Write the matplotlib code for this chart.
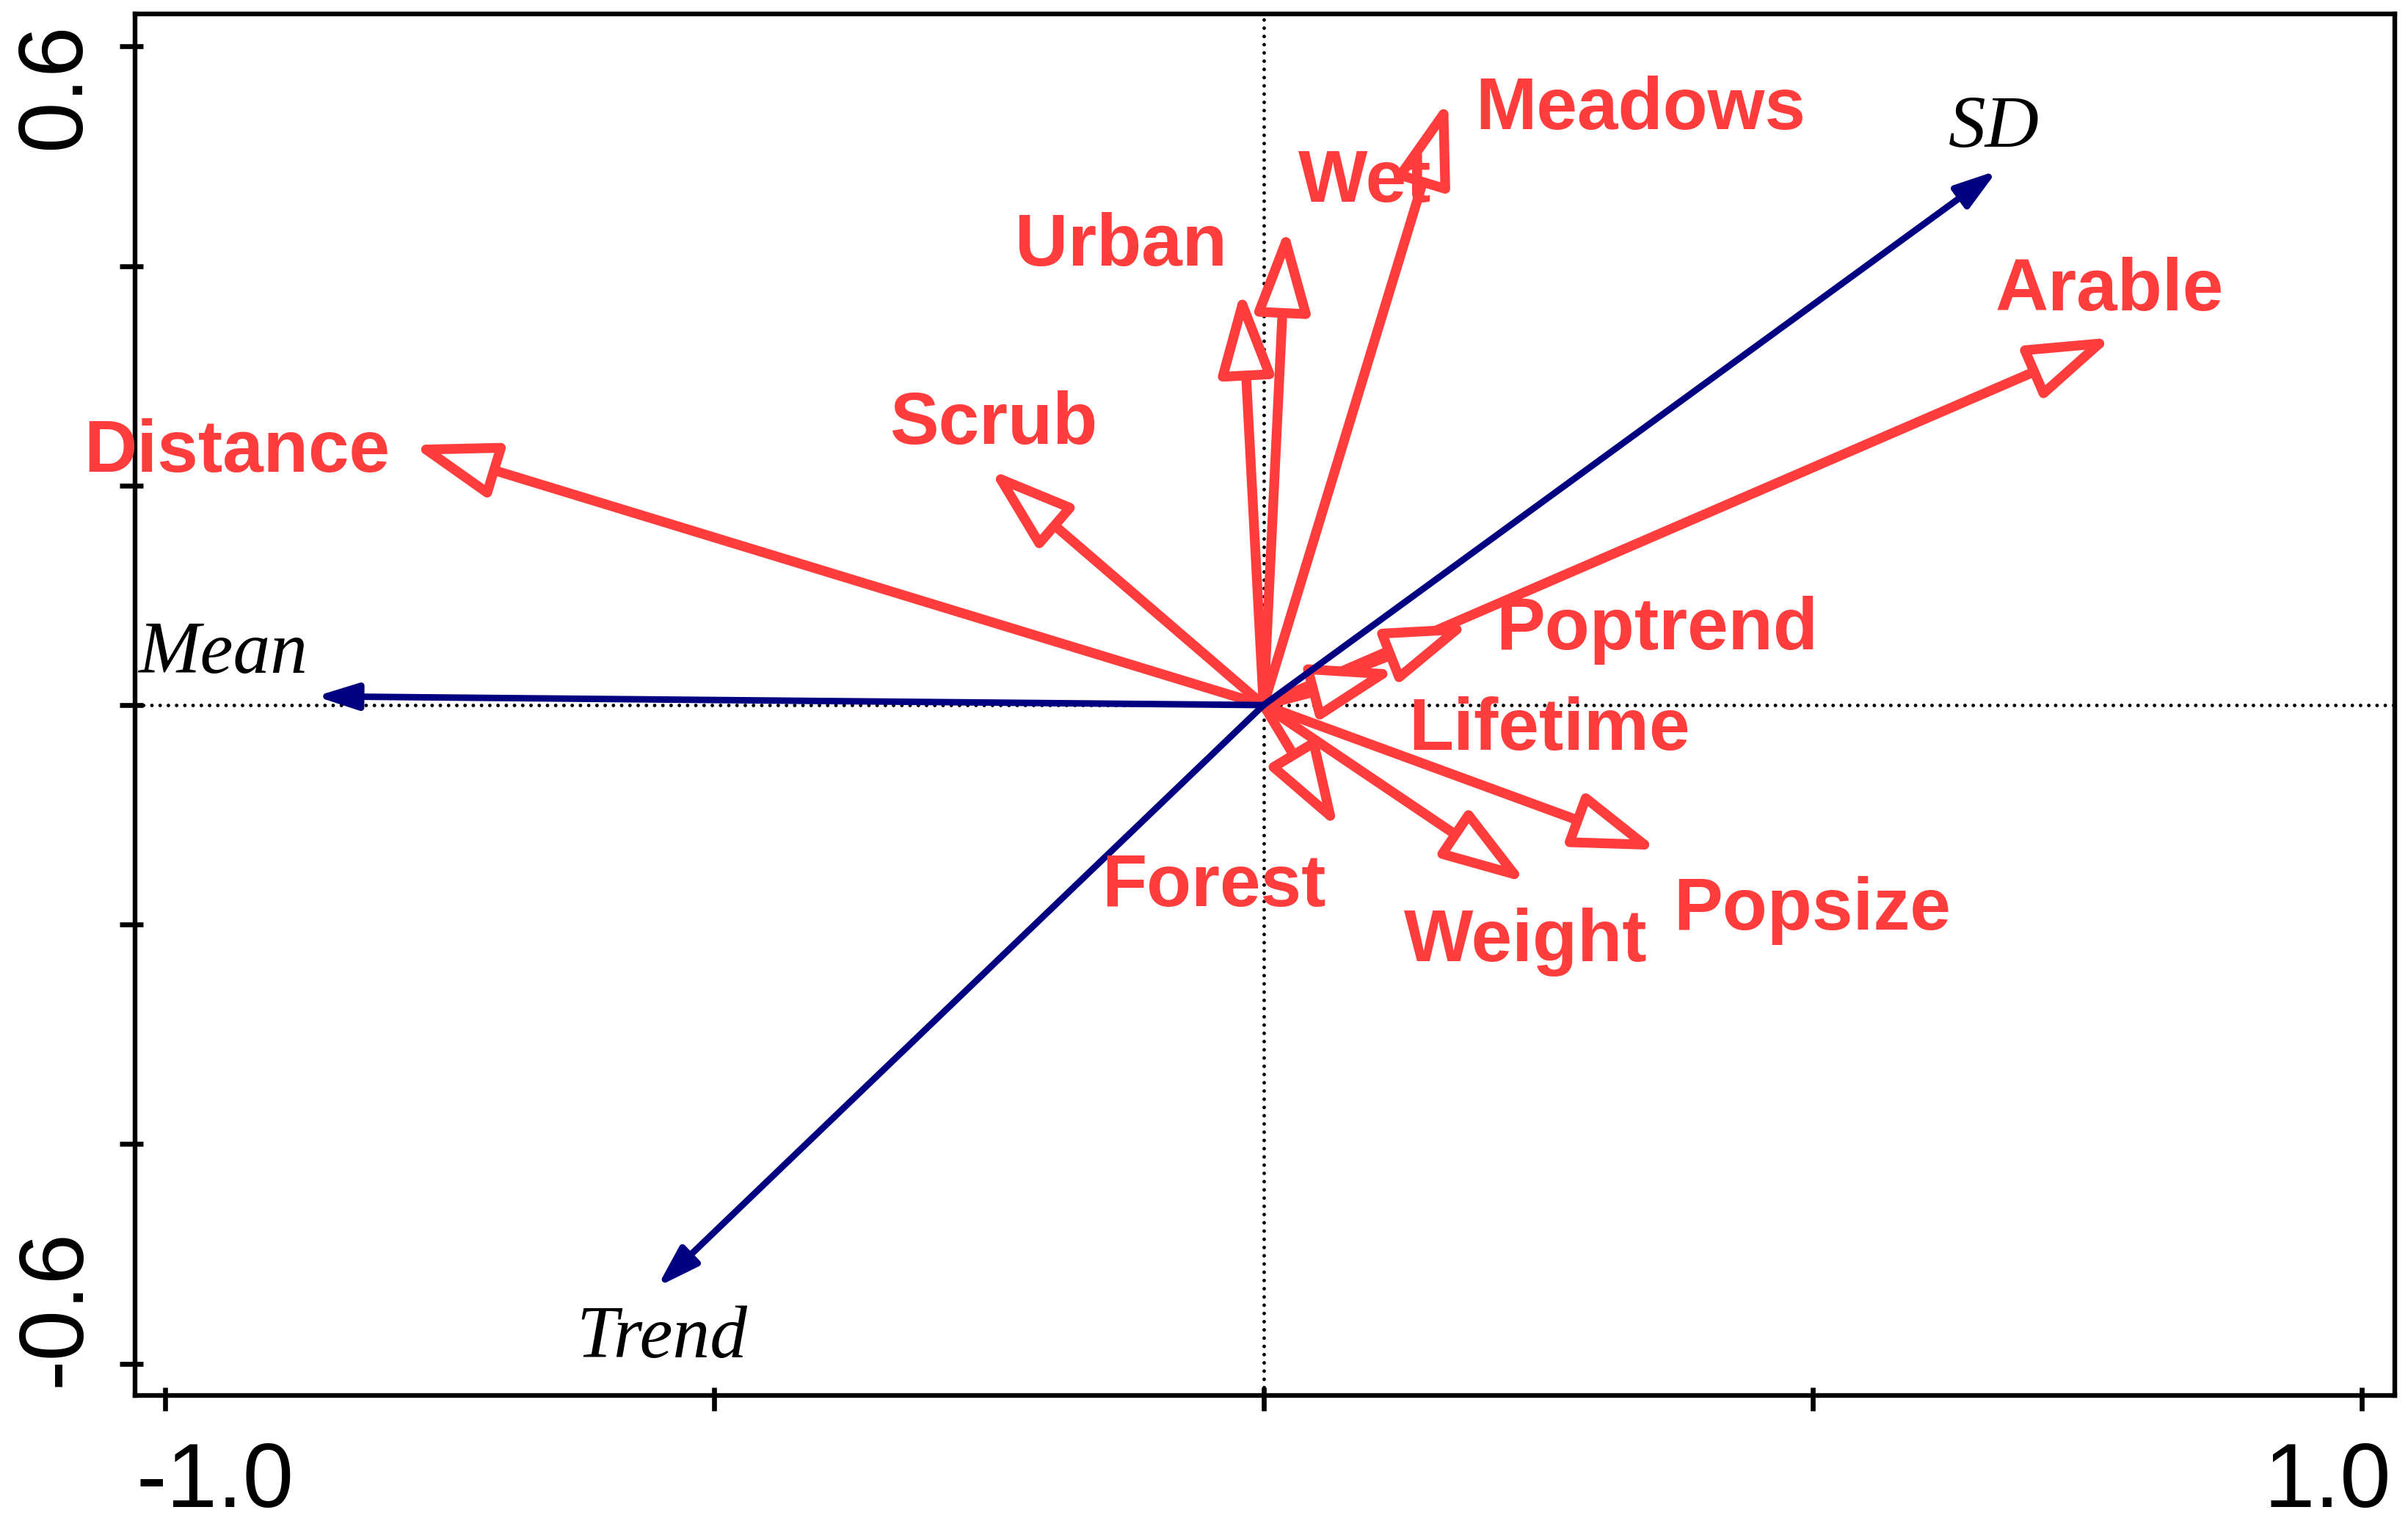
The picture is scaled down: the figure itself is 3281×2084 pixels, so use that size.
import matplotlib
matplotlib.use('Agg')
import matplotlib.pyplot as plt
from matplotlib.patches import FancyArrowPatch
from matplotlib.transforms import ScaledTranslation
from matplotlib.ticker import FixedLocator

# ---------------- data ----------------
env_names = ['Distance', 'Scrub', 'Urban', 'Wet', 'Meadows', 'Arable',
             'Poptrend', 'Lifetime', 'Forest', 'Weight', 'Popsize']
env_x = [-0.776, -0.250, -0.020, 0.021, 0.168, 0.774,
         0.189, 0.122, 0.068, 0.240, 0.360]
env_y = [0.237, 0.215, 0.379, 0.436, 0.552, 0.335,
         0.074, 0.032, -0.113, -0.162, -0.132]

sp_names = ['Mean', 'SD', 'Trend']
sp_x = [-0.863, 0.668, -0.552]
sp_y = [0.008, 0.487, -0.530]

x_ticks = [-1.0, -0.5, 0.0, 0.5, 1.0]
x_ticklabels = ['-1.0', '', '', '', '1.0']
y_ticks = [-0.6, -0.4, -0.2, 0.0, 0.2, 0.4, 0.6]
y_ticklabels = ['-0.6', '', '', '', '', '', '0.6']

# ---------------- layout (label anchors, baseline-centred) ----------------
env_label_x = [-0.9346, -0.2456, -0.1299, 0.0925, 0.3431, 0.770,
               0.3579, 0.2603, -0.0453, 0.2388, 0.4995]
env_label_y = [0.2126, 0.238, 0.4006, 0.4586, 0.5247, 0.3597,
               0.0510, -0.0406, -0.1829, -0.233, -0.2048]
sp_label_x = [-0.9477, 0.6652, -0.548]
sp_label_y = [0.0296, 0.5082, -0.594]

RED = '#FF3D3D'
NAVY = '#000080'
DPI = 200

fig = plt.figure(figsize=(3281 / DPI, 2084 / DPI), dpi=DPI)
ax = fig.add_axes([0.05599, 0.08733, 0.93852, 0.90355])
ax.set_xlim(-1.0277, 1.030)
ax.set_ylim(-0.629, 0.6297)

for s in ax.spines.values():
    s.set_linewidth(2.3)
    s.set_color('black')

# dotted zero lines
dot_style = dict(color='black', lw=1.75, linestyle=(0, (0.01, 2.3)),
                 dash_capstyle='round', zorder=1)
ax.axhline(0, **dot_style)
ax.axvline(0, **dot_style)

# red environmental arrows (open heads)
for x, y in zip(env_x, env_y):
    arr = FancyArrowPatch((0, 0), (x, y),
                          arrowstyle='-|>,head_length=34.8,head_width=11.5',
                          mutation_scale=1, shrinkA=0, shrinkB=0,
                          lw=4.8, edgecolor=RED, facecolor='white',
                          joinstyle='round', capstyle='round', zorder=3)
    ax.add_patch(arr)

# navy species arrows (filled heads)
for x, y in zip(sp_x, sp_y):
    arr = FancyArrowPatch((0, 0), (x, y),
                          arrowstyle='-|>,head_length=17,head_width=5.4',
                          mutation_scale=1, shrinkA=0, shrinkB=0,
                          lw=3.2, edgecolor=NAVY, facecolor=NAVY,
                          joinstyle='round', capstyle='round', zorder=4)
    ax.add_patch(arr)

# labels
for name, lx, ly in zip(env_names, env_label_x, env_label_y):
    ax.text(lx, ly, name, color=RED, fontsize=36, fontweight='bold',
            family='Liberation Sans', ha='center', va='baseline', zorder=5)
for name, lx, ly in zip(sp_names, sp_label_x, sp_label_y):
    ax.text(lx, ly, name, color='black', fontsize=36.5, fontstyle='italic',
            family='Liberation Serif', ha='center', va='baseline', zorder=5)

# ticks
ax.set_xticks(x_ticks)
ax.set_xticklabels(x_ticklabels)
ax.set_yticks(y_ticks)
ax.set_yticklabels(y_ticklabels)
ax.xaxis.set_minor_locator(FixedLocator(x_ticks))
ax.yaxis.set_minor_locator(FixedLocator(y_ticks))
ax.xaxis.remove_overlapping_locs = False
ax.yaxis.remove_overlapping_locs = False
ax.tick_params(which='major', direction='out', length=7.6, width=2.4,
               color='black')
ax.tick_params(which='minor', direction='in', length=4.0, width=2.4,
               color='black')
ax.tick_params(axis='x', which='major', pad=14.6)
ax.tick_params(axis='y', which='major', pad=10.2)

for lbl in ax.get_xticklabels():
    lbl.set_fontfamily('Liberation Sans')
    lbl.set_fontsize(45)
for lbl in ax.get_yticklabels():
    lbl.set_fontfamily('Liberation Sans')
    lbl.set_fontsize(45)
    lbl.set_rotation(90)
    lbl.set_ha('right')

xl = ax.get_xticklabels()
xl[0].set_ha('left')
xl[0].set_transform(xl[0].get_transform() + ScaledTranslation(-39.5 / DPI, 0, fig.dpi_scale_trans))
xl[-1].set_ha('right')
xl[-1].set_transform(xl[-1].get_transform() + ScaledTranslation(40 / DPI, 0, fig.dpi_scale_trans))

yl = ax.get_yticklabels()
yl[0].set_va('bottom')
yl[0].set_transform(yl[0].get_transform() + ScaledTranslation(0, -31 / DPI, fig.dpi_scale_trans))
yl[-1].set_va('top')
yl[-1].set_transform(yl[-1].get_transform() + ScaledTranslation(0, 33 / DPI, fig.dpi_scale_trans))

fig.savefig('out.png', dpi=DPI)
